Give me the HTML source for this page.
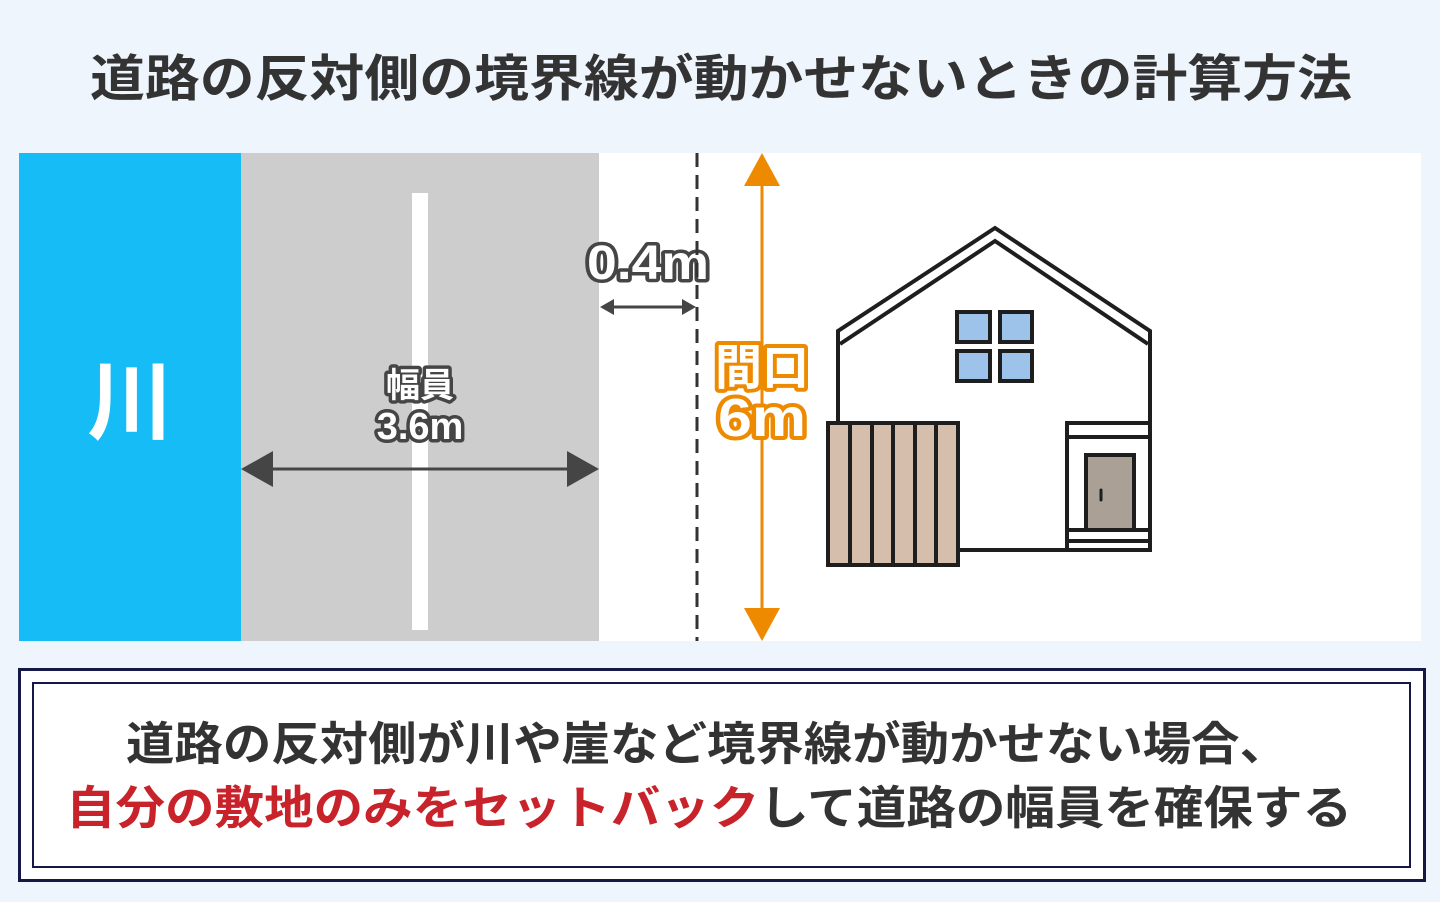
<!DOCTYPE html>
<html><head><meta charset="utf-8"><style>
html,body{margin:0;padding:0;background:#eef5fd;}
svg{display:block;font-family:"Liberation Sans","Noto Sans CJK JP",sans-serif;}
</style></head><body>
<svg width="1440" height="902" viewBox="0 0 1440 902" xmlns="http://www.w3.org/2000/svg">
<rect width="1440" height="902" fill="#eef5fd"/>
<text x="90" y="96" font-size="50" font-weight="bold" fill="#333" textLength="1262" lengthAdjust="spacingAndGlyphs">道路の反対側の境界線が動かせないときの計算方法</text>
<rect x="19" y="153" width="1402" height="488" fill="#fff"/>
<rect x="19" y="153" width="222" height="488" fill="#15bcf5"/>
<rect x="241" y="153" width="358" height="488" fill="#cdcdcd"/>
<rect x="412" y="193" width="16" height="437" fill="#fff"/>
<text x="130" y="432" font-size="86" font-weight="bold" fill="#fff" text-anchor="middle">川</text>
<line x1="265" y1="469" x2="575" y2="469" stroke="#454545" stroke-width="3"/>
<polygon points="241,469 273,451 273,487" fill="#454545"/>
<polygon points="599,469 567,451 567,487" fill="#454545"/>
<g font-weight="bold" text-anchor="middle" fill="#fff" stroke="#454545" stroke-width="7" paint-order="stroke" stroke-linejoin="round">
<text x="420" y="397" font-size="34">幅員</text>
<text x="420" y="439" font-size="38">3.6m</text>
<text x="648" y="279" font-size="48" textLength="122" lengthAdjust="spacingAndGlyphs">0.4m</text>
</g>
<line x1="697" y1="153" x2="697" y2="641" stroke="#333" stroke-width="3" stroke-dasharray="14,8"/>
<line x1="612" y1="307" x2="686" y2="307" stroke="#454545" stroke-width="3"/>
<polygon points="600,307 614,299 614,315" fill="#454545"/>
<polygon points="696,307 682,299 682,315" fill="#454545"/>
<line x1="762" y1="175" x2="762" y2="620" stroke="#ee8a00" stroke-width="3"/>
<polygon points="762,153 744,186 780,186" fill="#ee8a00"/>
<polygon points="762,641 744,608 780,608" fill="#ee8a00"/>
<g font-weight="bold" text-anchor="middle" fill="#fff" stroke="#ee8a00" stroke-width="8" paint-order="stroke" stroke-linejoin="round">
<text x="762" y="384" font-size="48" textLength="94" lengthAdjust="spacingAndGlyphs">間口</text>
<text x="762" y="436" font-size="54" textLength="88" lengthAdjust="spacingAndGlyphs">6m</text>
</g>
<g stroke="#1e1e1e" stroke-width="4" stroke-linejoin="miter">
<polygon points="838,550 838,331 995,228 1150,331 1150,550" fill="#fff"/>
<polyline points="840,344 995,241 1148,344" fill="none"/>
<rect x="957" y="312" width="33" height="30" fill="#9dc3ea"/>
<rect x="1000" y="312" width="32" height="30" fill="#9dc3ea"/>
<rect x="957" y="351" width="33" height="30" fill="#9dc3ea"/>
<rect x="1000" y="351" width="32" height="30" fill="#9dc3ea"/>
<rect x="1067" y="423" width="83" height="127" fill="#fff"/>
<line x1="1067" y1="437" x2="1150" y2="437"/>
<rect x="1086" y="455" width="48" height="75" fill="#aba096"/>
<line x1="1067" y1="530" x2="1150" y2="530"/>
<line x1="1067" y1="541" x2="1150" y2="541"/>
<rect x="828" y="423" width="130" height="142" fill="#d6beac"/>
<line x1="850" y1="423" x2="850" y2="565"/>
<line x1="872" y1="423" x2="872" y2="565"/>
<line x1="893" y1="423" x2="893" y2="565"/>
<line x1="915" y1="423" x2="915" y2="565"/>
<line x1="936" y1="423" x2="936" y2="565"/>
</g>
<line x1="1101" y1="490" x2="1101" y2="500" stroke="#1e1e1e" stroke-width="3" stroke-linecap="round"/>
<rect x="19.5" y="669.5" width="1405" height="211" fill="#fff" stroke="#141845" stroke-width="3"/>
<rect x="33" y="683" width="1377" height="184" fill="#fff" stroke="#141845" stroke-width="2"/>
<text x="126" y="760" font-size="46" font-weight="bold" fill="#333" textLength="1162" lengthAdjust="spacingAndGlyphs">道路の反対側が川や崖など境界線が動かせない場合、</text>
<text x="66" y="824" font-size="46" font-weight="bold" fill="#333" textLength="1286" lengthAdjust="spacingAndGlyphs"><tspan fill="#c8232a">自分の敷地のみをセットバック</tspan>して道路の幅員を確保する</text>
</svg>
</body></html>
